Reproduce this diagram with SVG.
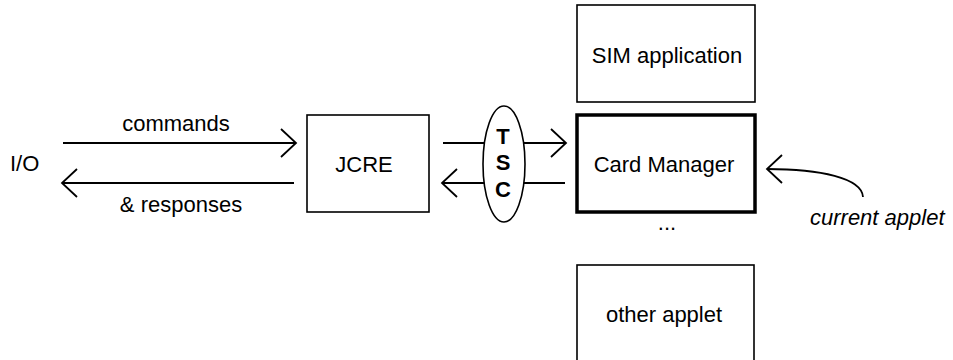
<svg xmlns="http://www.w3.org/2000/svg" width="953" height="360" viewBox="0 0 953 360">
<style>
text{font-family:"Liberation Sans",Arial,sans-serif;font-size:22px;fill:#000}
.box{fill:#fff;stroke:#000;stroke-width:1.6}
.thick{fill:#fff;stroke:#000;stroke-width:3.5}
.ln{fill:none;stroke:#000;stroke-width:1.8}
.c{text-anchor:middle}
.b{font-weight:bold}
.i{font-style:italic}
</style>
<defs>
<marker id="ah" viewBox="0 0 20 30" refX="17" refY="15" markerWidth="20" markerHeight="30" markerUnits="userSpaceOnUse" orient="auto">
<path d="M2 1 L17 15 L2 29" fill="none" stroke="#000" stroke-width="1.8"/>
</marker>
</defs>
<rect width="953" height="360" fill="#fff"/>
<g id="connectors">
<line class="ln" x1="63" y1="143" x2="296" y2="143" marker-end="url(#ah)"/>
<line class="ln" x1="294" y1="183" x2="62" y2="183" marker-end="url(#ah)"/>
<line class="ln" x1="443" y1="143" x2="566" y2="143" marker-end="url(#ah)"/>
<line class="ln" x1="565" y1="183" x2="442" y2="183" marker-end="url(#ah)"/>
<path class="ln" d="M863 197 C 862 178, 820 169, 767 169" marker-end="url(#ah)"/>
</g>
<g id="io"><text x="10" y="171">I/O</text></g>
<g id="label-commands"><text class="c" x="176" y="131">commands</text></g>
<g id="label-responses"><text class="c" x="181" y="212">&amp; responses</text></g>
<g id="jcre">
<rect class="box" x="307" y="115" width="122" height="97"/>
<text class="c" x="364" y="172">JCRE</text>
</g>
<g id="tsc">
<ellipse class="box" cx="504" cy="164" rx="21" ry="58"/>
<text class="c b" x="503" y="144">T</text>
<text class="c b" x="503" y="170">S</text>
<text class="c b" x="503" y="197">C</text>
</g>
<g id="sim">
<rect class="box" x="577" y="5" width="178" height="97"/>
<text class="c" x="667" y="63">SIM application</text>
</g>
<g id="cardmanager">
<rect class="thick" x="577" y="115" width="178" height="97"/>
<text class="c" x="664" y="172">Card Manager</text>
</g>
<g id="dots"><text class="c" x="667" y="230">...</text></g>
<g id="other">
<rect class="box" x="577" y="265" width="177" height="110"/>
<text class="c" x="664" y="322">other applet</text>
</g>
<g id="current"><text class="i" x="810" y="225">current applet</text></g>
</svg>
